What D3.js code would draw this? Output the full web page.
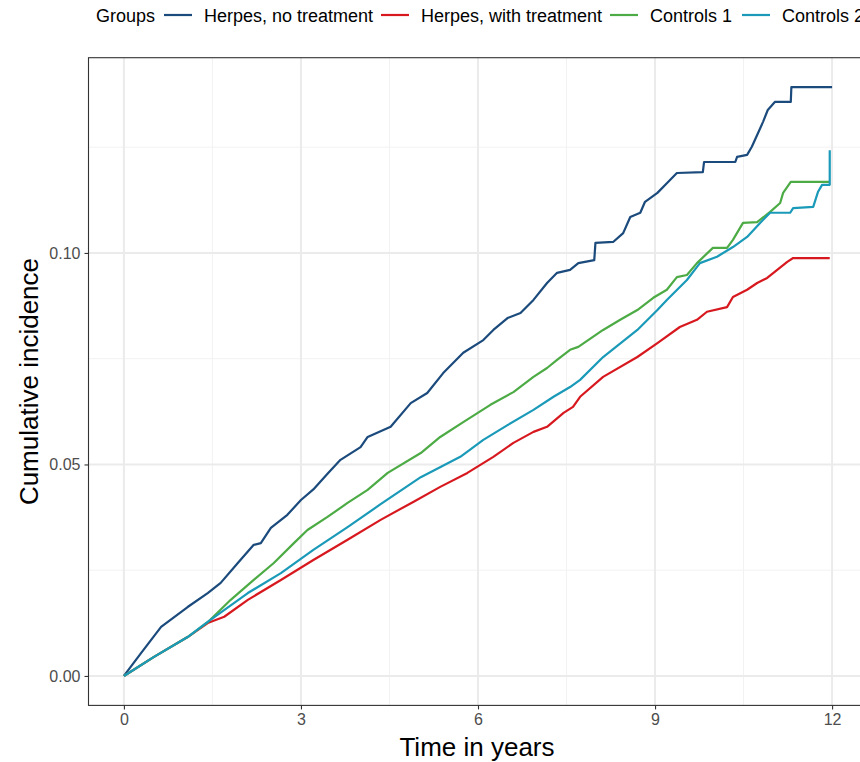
<!DOCTYPE html>
<html>
<head>
<meta charset="utf-8">
<script src="https://cdn.jsdelivr.net/npm/d3@7"></script>
<style>
	body { margin: 0; background: #fff; }
	text { font-family: 'Liberation Sans', Arial, sans-serif; }
</style>
</head>
<body>
<div id="chart"></div>
<script>
// groups shown in the legend
const groupNames = ['Herpes, no treatment', 'Herpes, with treatment', 'Controls 1', 'Controls 2'];
const groupColors = ['#1b4a7c', '#d7191f', '#4dab45', '#1a9ab8'];

const xTicks = [0, 3, 6, 9, 12];
const yTicks = [0, 0.05, 0.1];

// [time in years, cumulative incidence]
const herpesNoTreatment = [
	[0, 0], [0.29, 0.0054], [0.63, 0.0116], [1.08, 0.0163], [1.42, 0.0196], [1.64, 0.022],
	[1.93, 0.0267], [2.2, 0.031], [2.32, 0.0314], [2.49, 0.035], [2.77, 0.0381], [3.0, 0.0416],
	[3.21, 0.0441], [3.45, 0.0478], [3.67, 0.0511], [4.01, 0.0541], [4.13, 0.0565], [4.52, 0.0589],
	[4.86, 0.0645], [5.14, 0.0669], [5.41, 0.0716], [5.75, 0.0764], [6.09, 0.0794], [6.26, 0.0818],
	[6.5, 0.0846], [6.72, 0.0858], [6.94, 0.0889], [7.17, 0.0929], [7.34, 0.0953], [7.56, 0.096],
	[7.7, 0.0976], [7.97, 0.0983], [7.99, 0.1024], [8.29, 0.1026], [8.46, 0.1047], [8.58, 0.1085],
	[8.75, 0.1095], [8.83, 0.1121], [9.04, 0.1142], [9.2, 0.1165], [9.37, 0.1189], [9.81, 0.1191],
	[9.83, 0.1215], [10.36, 0.1215], [10.39, 0.1227], [10.56, 0.1232], [10.64, 0.1251], [10.73, 0.1279],
	[10.83, 0.131], [10.91, 0.1338], [11.03, 0.1357], [11.3, 0.1357], [11.31, 0.1392], [12.0, 0.1392]
];
const herpesWithTreatment = [
	[0, 0], [0.51, 0.0045], [1.08, 0.0092], [1.42, 0.0125], [1.7, 0.014], [2.1, 0.018],
	[2.66, 0.0227], [3.21, 0.0274], [3.79, 0.0322], [4.35, 0.0369], [4.91, 0.0412], [5.36, 0.0447],
	[5.82, 0.048], [6.26, 0.0518], [6.6, 0.0551], [6.94, 0.0577], [7.17, 0.0589], [7.45, 0.0622],
	[7.61, 0.0636], [7.73, 0.066], [8.12, 0.0707], [8.7, 0.0754], [9.04, 0.0787], [9.42, 0.0825],
	[9.71, 0.0842], [9.88, 0.0861], [10.22, 0.0872], [10.32, 0.0896], [10.56, 0.0913], [10.73, 0.0929],
	[10.9, 0.0941], [11.07, 0.096], [11.24, 0.0979], [11.34, 0.0988], [11.96, 0.0988]
];
const controls1 = [
	[0, 0], [0.51, 0.0045], [1.08, 0.0092], [1.42, 0.0127], [1.81, 0.018], [2.2, 0.0227],
	[2.54, 0.0267], [2.88, 0.0314], [3.11, 0.0345], [3.45, 0.0376], [3.79, 0.0409], [4.13, 0.044],
	[4.47, 0.048], [5.03, 0.0527], [5.36, 0.0565], [5.75, 0.06], [6.21, 0.0641], [6.6, 0.0671],
	[6.94, 0.0707], [7.17, 0.0728], [7.34, 0.0747], [7.56, 0.0771], [7.7, 0.0778], [8.12, 0.0818],
	[8.41, 0.0842], [8.7, 0.0865], [8.97, 0.0894], [9.2, 0.0913], [9.37, 0.0943], [9.54, 0.0948],
	[9.71, 0.0976], [9.98, 0.1012], [10.22, 0.1012], [10.32, 0.1031], [10.49, 0.1071], [10.73, 0.1073],
	[10.95, 0.1097], [11.12, 0.1118], [11.17, 0.1142], [11.3, 0.1168], [11.96, 0.1168]
];
const controls2 = [
	[0, 0], [0.51, 0.0045], [1.08, 0.0092], [1.42, 0.0128], [2.1, 0.0196], [2.66, 0.0243],
	[3.21, 0.0298], [3.79, 0.0352], [4.35, 0.0406], [5.03, 0.047], [5.7, 0.0518], [6.09, 0.0558],
	[6.5, 0.0593], [6.94, 0.0629], [7.28, 0.066], [7.56, 0.0683], [7.73, 0.07], [8.12, 0.0754],
	[8.7, 0.0818], [9.04, 0.0865], [9.2, 0.0889], [9.54, 0.0936], [9.76, 0.0976], [10.05, 0.0991],
	[10.32, 0.1014], [10.56, 0.1038], [10.78, 0.1071], [10.95, 0.1095], [11.29, 0.1095], [11.34, 0.1106],
	[11.68, 0.1109], [11.76, 0.1144], [11.83, 0.1161], [11.96, 0.1161], [11.96, 0.1243]
];
const allSeries = [herpesNoTreatment, herpesWithTreatment, controls1, controls2];

const width = 860;
const height = 762;
const panel = { left: 88.5, right: 867.5, top: 57.7, bottom: 705.4 };

const svg = d3
	.select('#chart')
	.append('svg')
	.attr('width', width)
	.attr('height', height);

// ggplot style 5% expansion on both axes
const xMax = d3.max(allSeries, (s) => d3.max(s, (d) => d[0]));
const yMax = d3.max(allSeries, (s) => d3.max(s, (d) => d[1]));
const x = d3
	.scaleLinear()
	.domain([0 - xMax * 0.05, xMax * 1.05])
	.range([panel.left, panel.right]);
const y = d3
	.scaleLinear()
	.domain([0 - yMax * 0.05, yMax * 1.05])
	.range([panel.bottom, panel.top]);

const minorX = xTicks.slice(1).map((t, i) => (t + xTicks[i]) / 2);
const minorY = yTicks.map((t) => t + 0.025);

const grid = svg.append('g');
grid.selectAll('line.minx')
	.data(minorX)
	.enter()
	.append('line')
	.attr('x1', (d) => x(d))
	.attr('x2', (d) => x(d))
	.attr('y1', panel.top)
	.attr('y2', panel.bottom)
	.style('stroke', '#f2f2f2')
	.style('stroke-width', 1);
grid.selectAll('line.miny')
	.data(minorY)
	.enter()
	.append('line')
	.attr('x1', panel.left)
	.attr('x2', panel.right)
	.attr('y1', (d) => y(d))
	.attr('y2', (d) => y(d))
	.style('stroke', '#f2f2f2')
	.style('stroke-width', 1);
grid.selectAll('line.majx')
	.data(xTicks)
	.enter()
	.append('line')
	.attr('x1', (d) => x(d))
	.attr('x2', (d) => x(d))
	.attr('y1', panel.top)
	.attr('y2', panel.bottom)
	.style('stroke', '#ebebeb')
	.style('stroke-width', 2);
grid.selectAll('line.majy')
	.data(yTicks)
	.enter()
	.append('line')
	.attr('x1', panel.left)
	.attr('x2', panel.right)
	.attr('y1', (d) => y(d))
	.attr('y2', (d) => y(d))
	.style('stroke', '#ebebeb')
	.style('stroke-width', 2);

// the curves
const line = d3
	.line()
	.x((d) => x(d[0]))
	.y((d) => y(d[1]));

svg.append('g')
	.selectAll('path')
	.data(allSeries)
	.enter()
	.append('path')
	.attr('d', line)
	.style('fill', 'none')
	.style('stroke', (d, i) => groupColors[i])
	.style('stroke-width', 2.2)
	.style('stroke-linejoin', 'round');

// panel border
svg.append('rect')
	.attr('x', panel.left)
	.attr('y', panel.top)
	.attr('width', panel.right - panel.left)
	.attr('height', panel.bottom - panel.top)
	.style('fill', 'none')
	.style('stroke', '#333333')
	.style('stroke-width', 1.1);

// axes
const xAxis = svg
	.append('g')
	.attr('transform', 'translate(0,' + panel.bottom + ')')
	.call(d3.axisBottom(x).tickValues(xTicks).tickSize(4).tickPadding(4).tickFormat(d3.format('d')));
const yAxis = svg
	.append('g')
	.attr('transform', 'translate(' + panel.left + ',0)')
	.call(d3.axisLeft(y).tickValues(yTicks).tickSize(4).tickPadding(4).tickFormat(d3.format('.2f')));

[xAxis, yAxis].forEach((ax) => {
	ax.select('.domain').remove();
	ax.selectAll('line').style('stroke', '#333333').style('stroke-width', 1.1);
	ax.selectAll('text')
		.style('font-family', "'Liberation Sans', Arial, sans-serif")
		.style('font-size', '16px')
		.style('fill', '#4d4d4d');
});

svg.append('text')
	.attr('x', (panel.left + panel.right) / 2 - 1)
	.attr('y', 756)
	.attr('text-anchor', 'middle')
	.style('font-size', '26px')
	.style('fill', '#000')
	.text('Time in years');

svg.append('text')
	.attr('transform', 'translate(38,' + (panel.top + panel.bottom) / 2 + ') rotate(-90)')
	.attr('text-anchor', 'middle')
	.style('font-size', '26px')
	.style('fill', '#000')
	.text('Cumulative incidence');

// legend on top, runs off the right edge like the original
const legend = svg.append('g').attr('transform', 'translate(0,15)');
legend.append('text')
	.attr('x', 96)
	.attr('y', 6.5)
	.style('font-size', '18px')
	.style('fill', '#000')
	.text('Groups');

const labelX = [204, 421, 650, 782];
groupNames.forEach((name, i) => {
	legend.append('line')
		.attr('x1', labelX[i] - 40)
		.attr('x2', labelX[i] - 12)
		.attr('y1', 0)
		.attr('y2', 0)
		.style('stroke', groupColors[i])
		.style('stroke-width', 2.2);
	legend.append('text')
		.attr('x', labelX[i])
		.attr('y', 6.5)
		.style('font-size', '18px')
		.style('fill', '#000')
		.text(name);
});
</script>
</body>
</html>
